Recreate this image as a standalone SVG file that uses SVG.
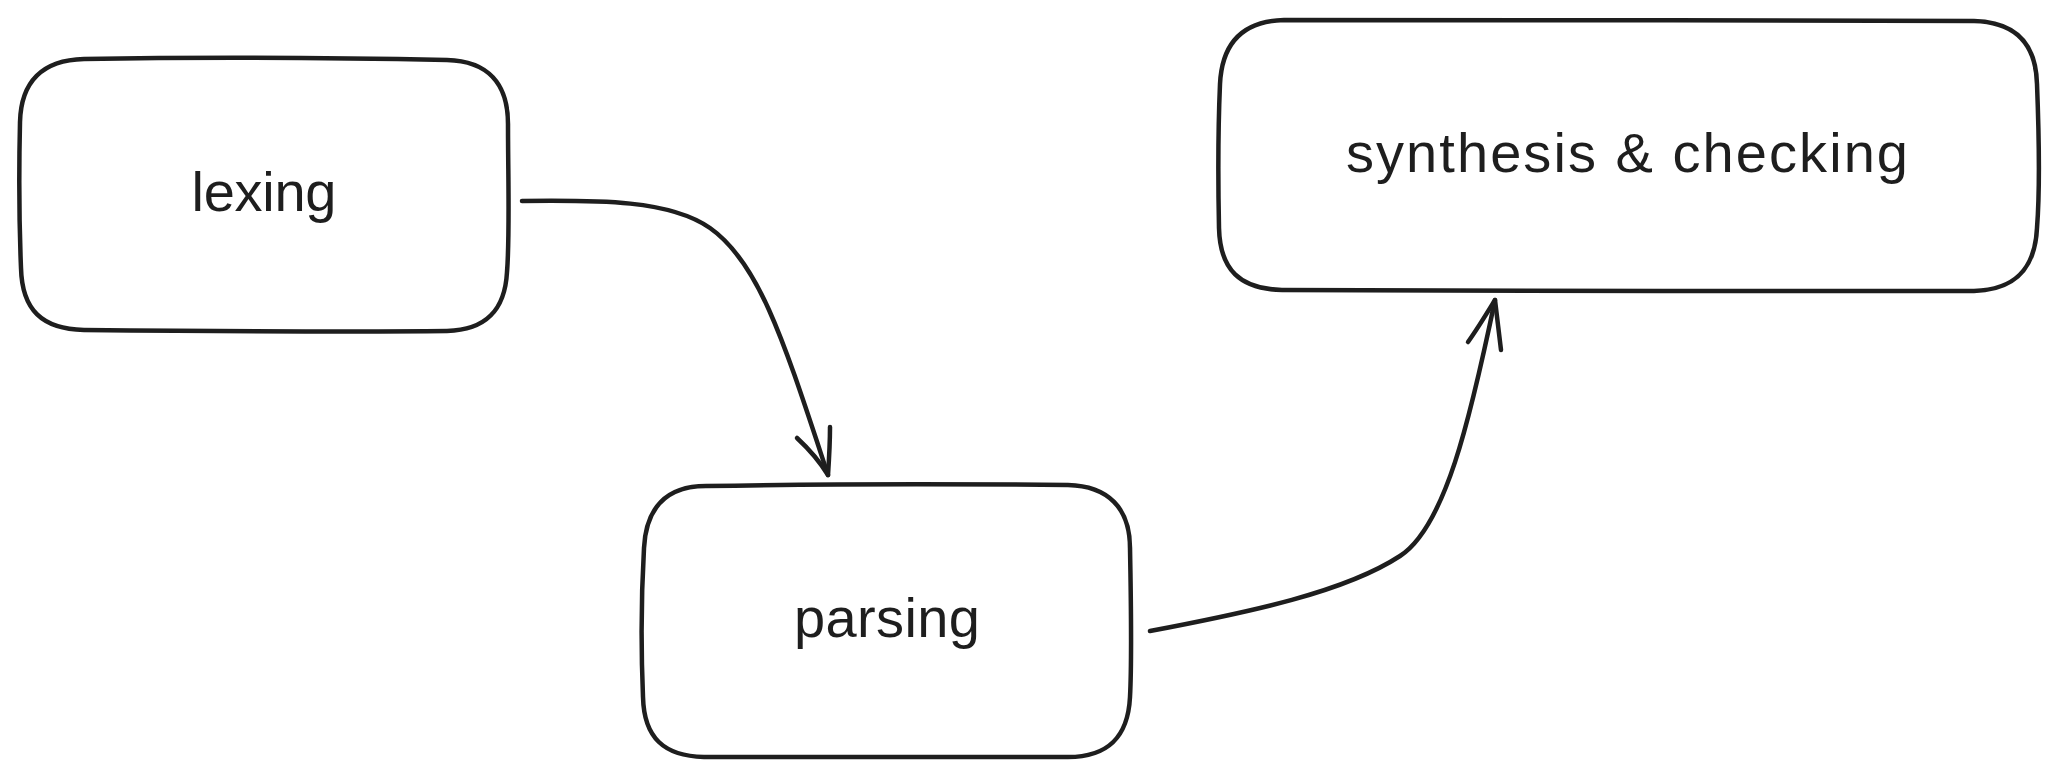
<svg xmlns="http://www.w3.org/2000/svg" width="2056" height="777" viewBox="0 0 2056 777">
<style>
.box{fill:#ffffff;stroke:#1e1e1e;stroke-width:4.5;stroke-linecap:round;stroke-linejoin:round}
.lbl{font-family:"Liberation Sans","Noto Sans",sans-serif;font-size:56px;fill:#1e1e1e;text-anchor:middle}
.con{fill:none;stroke:#1e1e1e;stroke-width:4.5;stroke-linecap:round;stroke-linejoin:round}
</style>
<rect width="2056" height="777" fill="#ffffff"/>
<g id="lexing">
<path class="box" d="M84,59 C200,57 350,58 447,60 C488,61 508,84 508,124 C508,175 510,235 507,272 C505,310 486,330 447,331 C350,332 200,331 84,330 C42,329 22,310 21,268 C19,220 19,165 20,122 C21,82 42,60 84,59 Z"/>
<text class="lbl" x="264" y="211" textLength="145">lexing</text>
</g>
<g id="parsing">
<path class="box" d="M706,486 C820,484 960,484 1068,485 C1108,486 1130,508 1130,548 C1131,600 1132,660 1130,697 C1128,737 1108,757 1068,757 C960,758 820,756 704,757 C664,756 644,738 643,697 C641,650 641,600 644,548 C646,508 666,486 706,486 Z"/>
<text class="lbl" x="887" y="637" textLength="186">parsing</text>
</g>
<g id="synthesis">
<path class="box" d="M1284,20 C1500,19 1750,21 1974,21 C2016,22 2036,44 2037,84 C2039,135 2040,190 2037,228 C2035,270 2014,290 1974,291 C1750,292 1500,290 1282,290 C1240,289 1220,270 1219,228 C1218,180 1218,130 1220,84 C1222,42 1244,21 1284,20 Z"/>
<text class="lbl" x="1627" y="172" textLength="562">synthesis &amp; checking</text>
</g>
<g id="connectors">
<path class="con" d="M522,201 C600,200 670,200 710,228 C760,263 785,345 828,475"/>
<path class="con" d="M797,438 C810,450 820,462 828,475 C829,460 830,445 830,427"/>
<path class="con" d="M1150,631 C1250,612 1345,592 1400,556 C1445,527 1470,420 1495,300"/>
<path class="con" d="M1468,342 C1478,328 1487,313 1495,300 C1497,317 1499,333 1501,350"/>
</g>
</svg>
